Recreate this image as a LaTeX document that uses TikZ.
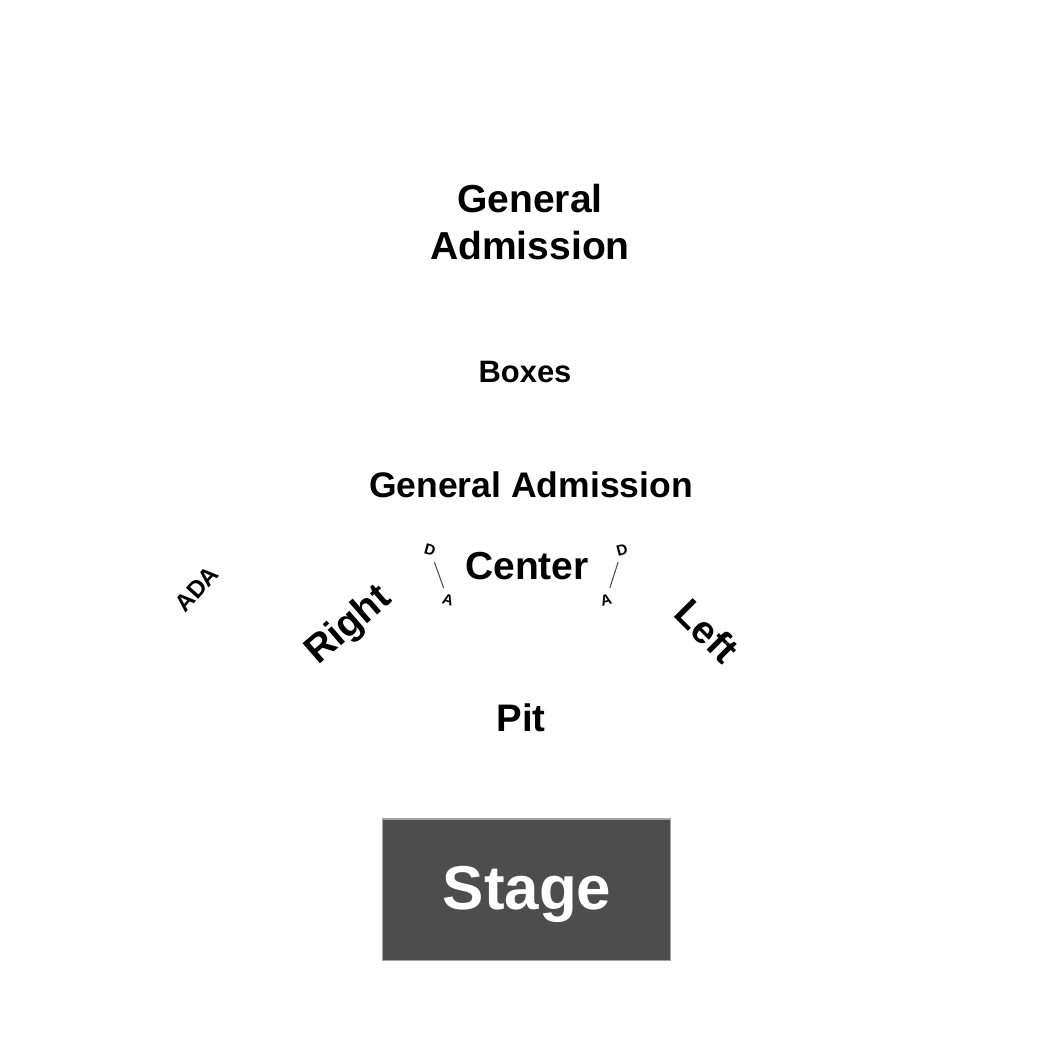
\documentclass[tikz,border=0pt]{standalone}
\usepackage{fontspec}
\setmainfont{Liberation Sans}
\usepackage{xcolor}
\usepackage{tikz}

\definecolor{stagegray}{HTML}{4D4D4D}

\begin{document}
\begin{tikzpicture}[x=0.01cm,y=-0.01cm]
			\tikzstyle{section} = [font=\bfseries, inner sep=0pt]
			\tikzstyle{tiny} = [font=\bfseries\fontsize{4.3}{4.3}\selectfont, inner sep=0.5pt]
			\tikzset{ada/.style = {draw=black!70, line width=0.3pt, shorten <=1pt, shorten >=1pt}}
			
			\useasboundingbox (0,0) rectangle (1050,1050);
			
			\node[section, align=center, font=\bfseries\fontsize{11.1}{13.1}\selectfont](upperga) at (530,222) {General\\Admission};
			\node[section, anchor=base, font=\bfseries\fontsize{8.8}{10}\selectfont](boxes) at (525,382) {Boxes};
			\node[section, anchor=base, font=\bfseries\fontsize{10.1}{12}\selectfont](lowerga) at (531,497) {General Admission};
			\node[section, anchor=base, font=\bfseries\fontsize{11.1}{13}\selectfont](center) at (527,579) {Center};
			\node[section, rotate=41, font=\bfseries\fontsize{11}{13}\selectfont](right) at (349,626) {Right};
			\node[section, rotate=-45, font=\bfseries\fontsize{11}{13}\selectfont](left) at (707,631) {Left};
			\node[section, rotate=48, font=\bfseries\fontsize{6.8}{8}\selectfont](ada) at (197,589) {ADA};
			\node[section, anchor=base, font=\bfseries\fontsize{10.9}{13}\selectfont](pit) at (521,731) {Pit};
			
			\node[tiny, rotate=-15](dleft) at (430,550) {D};
			\node[tiny, rotate=-15](aleft) at (448,600) {A};
			\draw[ada](dleft) to (aleft);
			\node[tiny, rotate=15](dright) at (622,550) {D};
			\node[tiny, rotate=15](aright) at (606,600) {A};
			\draw[ada](dright) to (aright);
			
			\node[fill=stagegray, draw=black!35, line width=0.3pt, minimum width=2.87cm, minimum height=1.41cm, inner sep=0pt](stage) at (526.5,889.5) {};
			\node[section, anchor=base, text=white, font=\bfseries\fontsize{17.6}{20}\selectfont](stagelabel) at (527,909) {Stage};
			
			\end{tikzpicture}
\end{document}
